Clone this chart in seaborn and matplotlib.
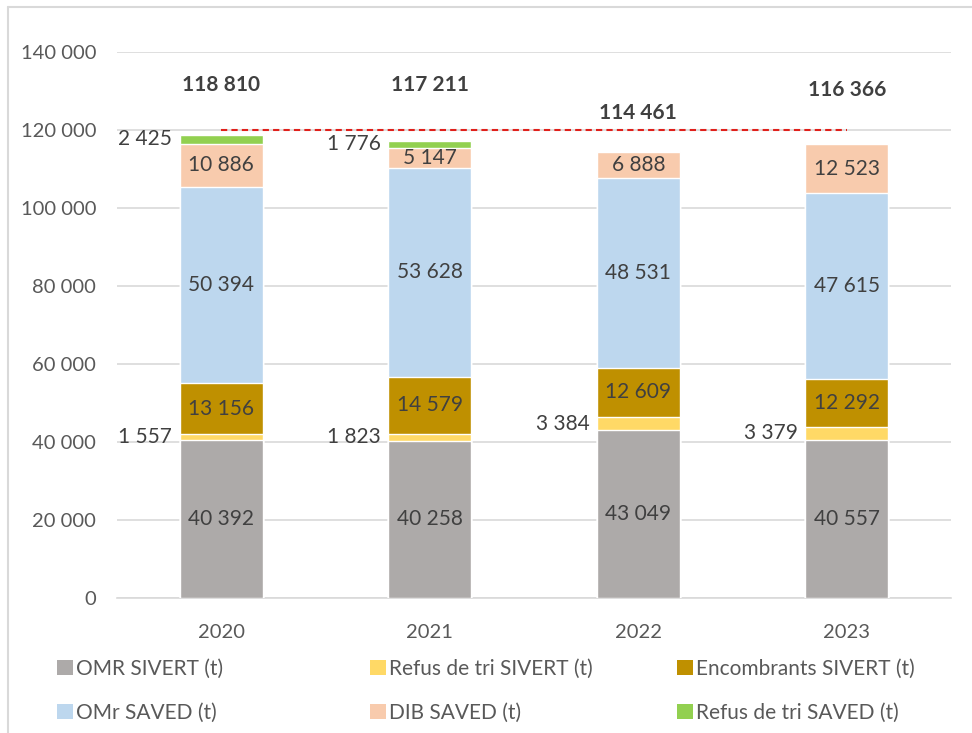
import numpy as np
import pandas as pd
import matplotlib
matplotlib.use("Agg")
import matplotlib.pyplot as plt
import seaborn as sns
from matplotlib.patches import Patch
from matplotlib.lines import Line2D

years = ['2020', '2021', '2022', '2023']
series_names = ['OMR SIVERT (t)', 'Refus de tri SIVERT (t)', 'Encombrants SIVERT (t)',
                'OMr SAVED (t)', 'DIB SAVED (t)', 'Refus de tri SAVED (t)']
omr_sivert = [40392, 40258, 43049, 40557]
refus_sivert = [1557, 1823, 3384, 3379]
encombrants_sivert = [13156, 14579, 12609, 12292]
omr_saved = [50394, 53628, 48531, 47615]
dib_saved = [10886, 5147, 6888, 12523]
refus_saved = [2425, 1776, 0, 0]
colors = ['#ADAAA9', '#FFD966', '#BF9000', '#BDD7EE', '#F8CBAD', '#92D050']
# height of the total labels above the axis (as placed in the original)
total_label_y = [131500, 131500, 124400, 130300]
threshold = 120000

sns.set_style("white")
plt.rcParams['font.family'] = ['Lato', 'DejaVu Sans']
txt = '#404040'

df = pd.DataFrame({'year': years})
for name, vals in zip(series_names, [omr_sivert, refus_sivert, encombrants_sivert,
                                     omr_saved, dib_saved, refus_saved]):
    df[name] = vals
cum = df[series_names].cumsum(axis=1)
totals = cum[series_names[-1]]


def fmt(v):
    return f"{int(v):,}".replace(',', ' ')


fig = plt.figure(figsize=(9.72, 7.33), dpi=100)
ax = fig.add_axes([117 / 972, 1 - 598 / 733, (951 - 117) / 972, (598 - 52) / 733])

# stacked bars: draw cumulative heights from the top layer down
for name, col in reversed(list(zip(series_names, colors))):
    sns.barplot(x=df['year'], y=cum[name], color=col, saturation=1, width=0.4,
                ax=ax, zorder=3)

ax.set_xlim(-0.5, 3.5)
ax.set_ylim(0, 140000)
ax.set_yticks(np.arange(0, 140001, 20000))
ax.set_yticklabels([fmt(v) for v in np.arange(0, 140001, 20000)])
ax.yaxis.grid(True, color='#D9D9D9', linewidth=1.2, zorder=0)
ax.set_axisbelow(True)
ax.set_xlabel('')
ax.set_ylabel('')
for s in ['top', 'right', 'left']:
    ax.spines[s].set_visible(False)
ax.spines['bottom'].set_color('#D9D9D9')
ax.spines['bottom'].set_linewidth(1.2)
ax.tick_params(axis='both', length=0, labelsize=14.5, labelcolor='#595959')
ax.tick_params(axis='x', pad=19)
ax.tick_params(axis='y', pad=15)

# segment labels
small = {'Refus de tri SIVERT (t)', 'Refus de tri SAVED (t)'}
for i in range(len(years)):
    bottom = 0
    for name in series_names:
        v = df.loc[i, name]
        if v > 0:
            mid = bottom + v / 2
            if name in small:
                ax.text(i - 0.235, mid, fmt(v), ha='right', va='center',
                        fontsize=15, color=txt, zorder=5)
            else:
                ax.text(i, mid, fmt(v), ha='center', va='center',
                        fontsize=15, color=txt, zorder=5)
        bottom += v
    ax.text(i, total_label_y[i], fmt(totals[i]), ha='center', va='center',
            fontsize=15, fontweight='bold', color=txt, zorder=5)

# threshold line
ax.plot([0, 3], [threshold, threshold], color='#E0201B', linestyle=(0, (3, 2)),
        linewidth=1.5, zorder=4)

# legend: three columns placed like the original
handles = [Patch(facecolor=c, edgecolor='none') for c in colors]
col_x = [57 / 972, 370 / 972, 677 / 972]
for k in range(3):
    leg = fig.legend([handles[k], handles[k + 3]], [series_names[k], series_names[k + 3]],
                     loc='upper left', bbox_to_anchor=(col_x[k], 1 - 659 / 733),
                     frameon=False, ncol=1, fontsize=15, handlelength=0.75,
                     handleheight=0.75, handletextpad=0.15, labelspacing=1.15,
                     borderaxespad=0, borderpad=0)
    for t in leg.get_texts():
        t.set_color('#595959')

# chart frame
fig.add_artist(Line2D([8 / 972, 8 / 972], [0, 1 - 7 / 733], color='#D9D9D9',
                      linewidth=1.5, transform=fig.transFigure))
fig.add_artist(Line2D([8 / 972, 1], [1 - 7 / 733, 1 - 7 / 733], color='#D9D9D9',
                      linewidth=1.5, transform=fig.transFigure))

fig.savefig('out.png', dpi=100)
